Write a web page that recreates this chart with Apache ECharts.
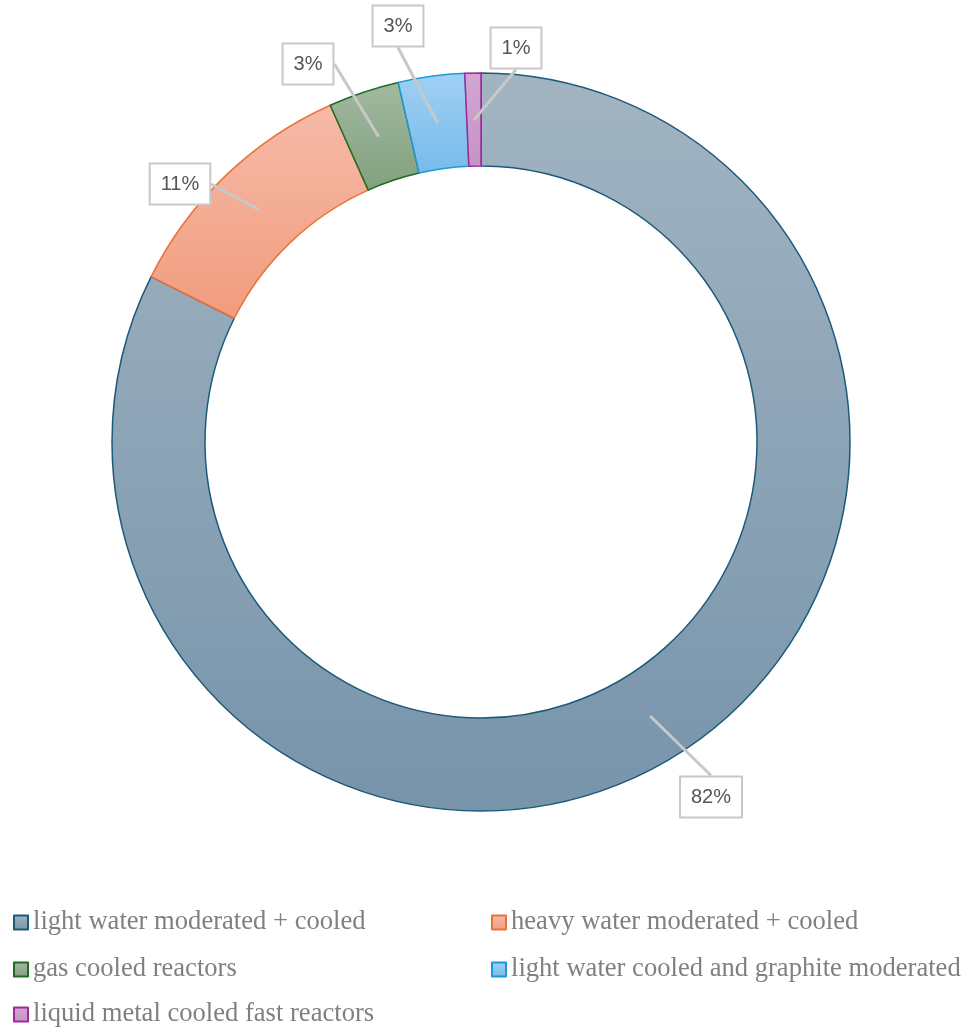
<!DOCTYPE html>
<html>
<head>
<meta charset="utf-8">
<script src="https://cdn.jsdelivr.net/npm/echarts@6/dist/echarts.min.js"></script>
<style>html,body{margin:0;padding:0;background:#fff;}#c{width:966px;height:1027px;}</style>
</head>
<body>
<div id="c"></div>
<script>
const categories = ['light water moderated + cooled','heavy water moderated + cooled','gas cooled reactors','light water cooled and graphite moderated','liquid metal cooled fast reactors'];
const values = [82.4, 10.9, 3.1, 2.9, 0.7];
const topColors = ['#a2b4c2','#f6bba8','#a2b9a0','#a0d0f4','#d4a6d4'];
const bottomColors = ['#7794ab','#f19c7e','#82a07e','#76bbea','#c493c4'];
const borderColors = ['#1b5a7a','#e8733b','#1e6b23','#1b9ad8','#a0299c'];
const labelPos = [[711,797],[180,184],[308,64],[398,26],[516,48]];
const legendPos = [[13,909],[491,909],[13,956],[491,956],[13,1001]];

const chart = echarts.init(document.getElementById('c'), null, {renderer:'canvas'});
const data = categories.map((n,i)=>({
  name:n, value:values[i],
  itemStyle:{
    color:new echarts.graphic.LinearGradient(0,0,0,1,[{offset:0,color:topColors[i]},{offset:1,color:bottomColors[i]}]),
    borderColor:borderColors[i], borderWidth:1.5
  }
}));
const labelData = categories.map((n,i)=>({name:n, value:values[i]}));
const legendText = {fontSize:26.6, fontFamily:'Liberation Serif', color:'#808080'};
chart.setOption({
  animation:false,
  legend:categories.map((n,i)=>({
    left:legendPos[i][0], top:legendPos[i][1], padding:0, itemWidth:14, itemHeight:14, icon:'rect',
    selectedMode:false, data:[n], textStyle:legendText
  })),
  series:[
    {type:'pie', center:[481,442], radius:[276,369], startAngle:90, clockwise:true, silent:true,
     label:{show:false}, labelLine:{show:false}, data:data},
    {type:'pie', center:[481,442], radius:[0,322], startAngle:90, clockwise:true, silent:true, z:5,
     itemStyle:{color:'rgba(0,0,0,0)', borderWidth:0},
     label:{show:true, position:'outside', formatter:p=>Math.round(p.percent)+'%',
       fontSize:20, fontFamily:'Liberation Sans', color:'#555',
       backgroundColor:'#fff', borderColor:'#c8c8c8', borderWidth:2, padding:[10,10,9,10]},
     labelLine:{show:true, length:0, length2:0, lineStyle:{color:'#c8c8c8', width:3}},
     labelLayout:function(p){ const q=labelPos[p.dataIndex]; return {x:q[0], y:q[1], align:'center', verticalAlign:'middle'}; },
     data:labelData}
  ]
});
</script>
</body>
</html>
